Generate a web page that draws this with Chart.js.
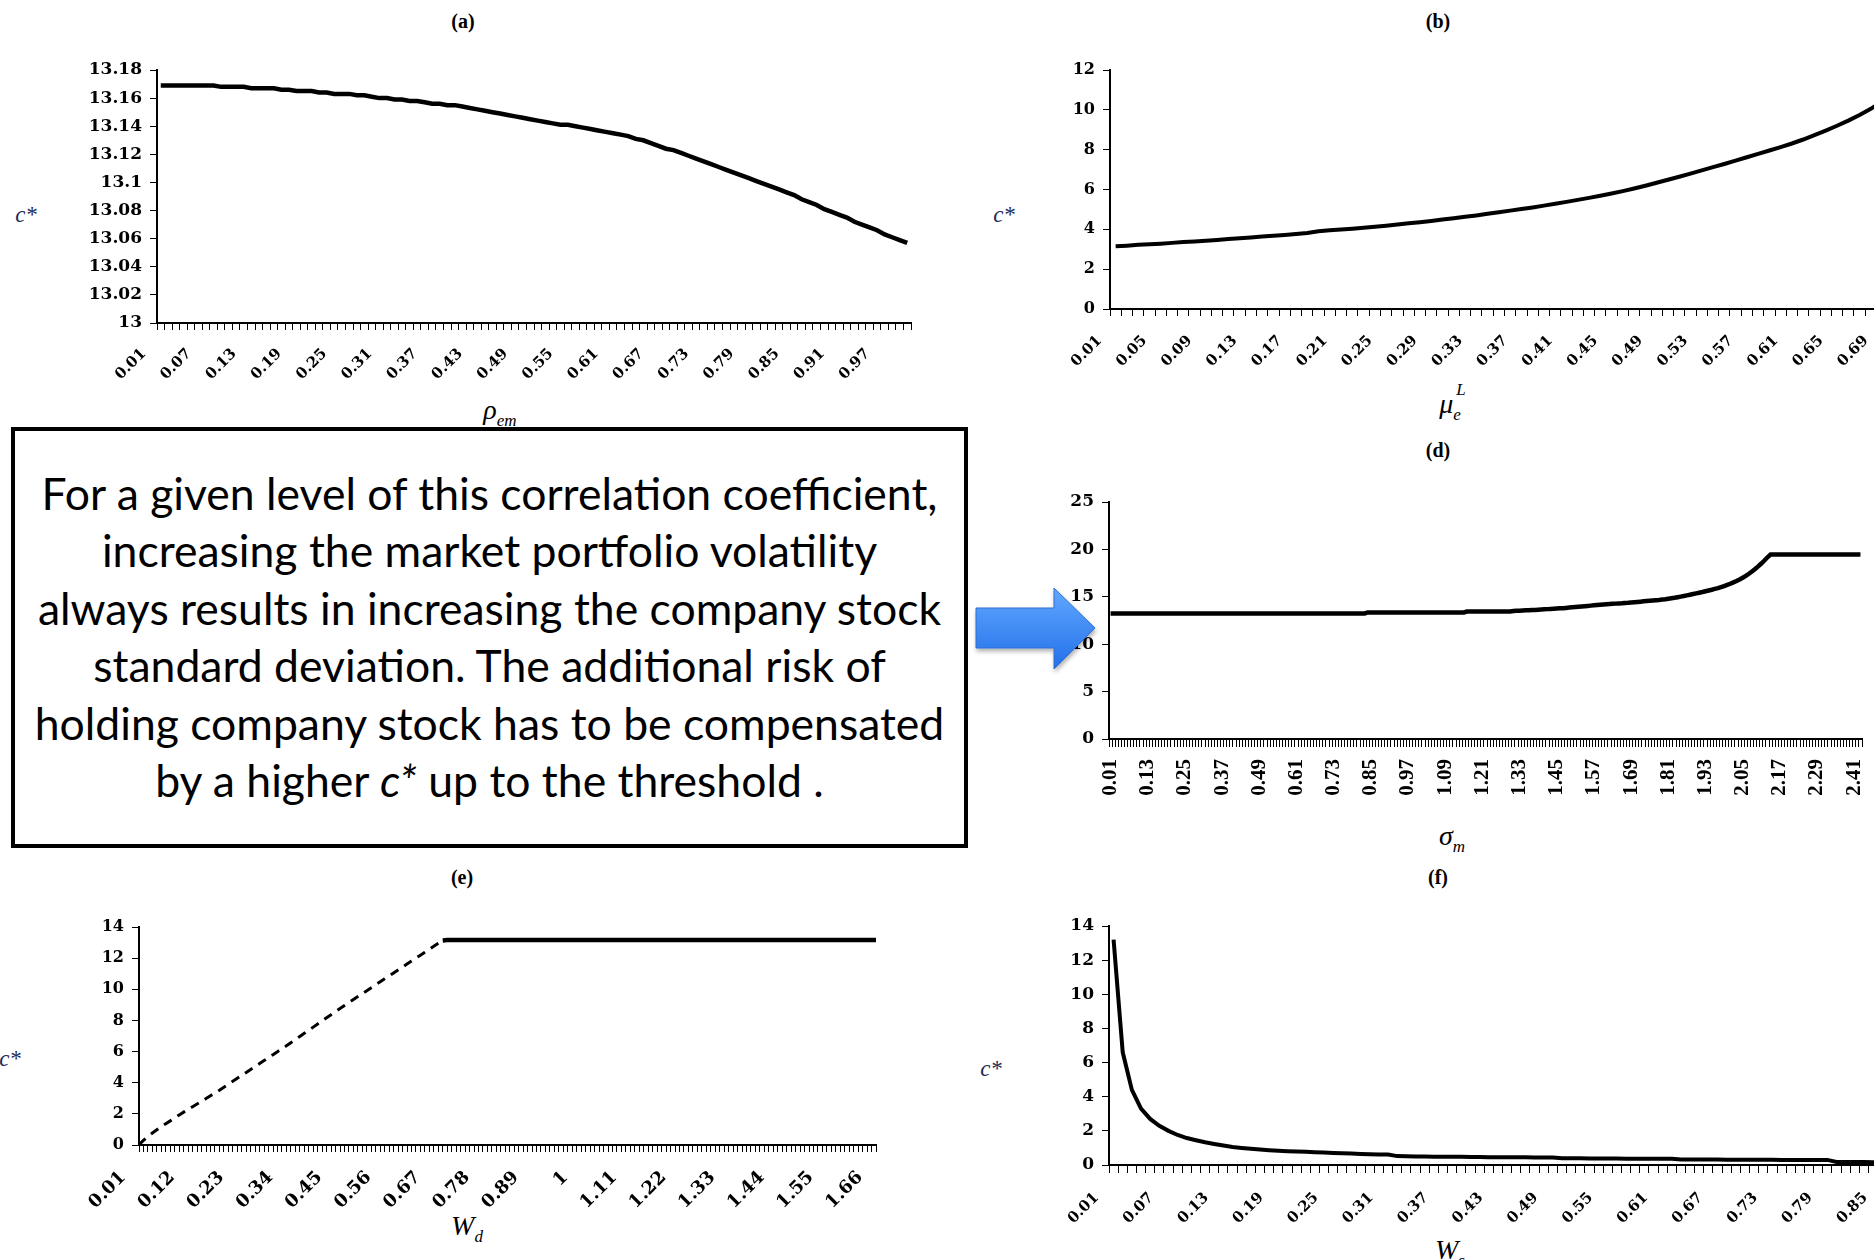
<!DOCTYPE html>
<html>
<head>
<meta charset="utf-8">
<script src="https://cdn.jsdelivr.net/npm/chart.js@4.4.1/dist/chart.umd.min.js"></script>
<style>
  html, body { margin: 0; padding: 0; background: #fff; }
  body { position: relative; width: 1874px; height: 1260px; overflow: hidden; }
  canvas { position: absolute; }
  .lbl { position: absolute; font-family: 'Liberation Serif', serif; color: #000; white-space: nowrap; line-height: 1; transform: translate(-50%, -50%); }
  .panel { font-weight: bold; font-size: 20px; }
  .cstar { font-style: italic; font-size: 23px; color: #1f2a55; }
  .axt { font-style: italic; font-size: 28px; }
  .axt .s { font-size: 17px; position: relative; top: 7px; }
  .axt .p { font-size: 17px; position: absolute; }
  #note { position: absolute; left: 11px; top: 427px; width: 957px; height: 421px; box-sizing: border-box;
          border: 4px solid #000; background: #fff; z-index: 4; }
  #noteText { position: absolute; left: 11px; top: 464px; width: 957px; text-align: center; z-index: 5;
              font-family: Lato, 'Open Sans', sans-serif; font-size: 44.5px; line-height: 57.4px; color: #000; white-space: nowrap; }
  #arrow { position: absolute; left: 966px; top: 580px; z-index: 6; }
</style>
</head>
<body>

<div class="lbl panel" style="left:463px;top:21px">(a)</div>
<div class="lbl panel" style="left:1438px;top:21px">(b)</div>
<div class="lbl panel" style="left:1438px;top:450px">(d)</div>
<div class="lbl panel" style="left:462px;top:877px">(e)</div>
<div class="lbl panel" style="left:1438px;top:877px">(f)</div>

<div class="lbl cstar" style="left:26px;top:214px">c*</div>
<div class="lbl cstar" style="left:1004px;top:214px">c*</div>
<div class="lbl cstar" style="left:1000px;top:640px">c*</div>
<div class="lbl cstar" style="left:10px;top:1058px">c*</div>
<div class="lbl cstar" style="left:991px;top:1068px">c*</div>

<div class="lbl axt" style="left:500px;top:410px">ρ<span class="s">em</span></div>
<div class="lbl axt" style="left:1450px;top:404px">μ<span class="s">e</span><span class="p" style="left:17px;top:-9px">L</span></div>
<div class="lbl axt" style="left:1452px;top:836px">σ<span class="s">m</span></div>
<div class="lbl axt" style="left:467px;top:1226px">W<span class="s">d</span></div>
<div class="lbl axt" style="left:1450px;top:1250px">W<span class="s">s</span></div>

<div id="note"></div>
<div id="noteText">For a given level of this correlation coefficient,<br>increasing the market portfolio volatility<br>always results in increasing the company stock<br>standard deviation. The additional risk of<br>holding company stock has to be compensated<br>by a higher <i>c*</i> up to the threshold .</div>

<svg id="arrow" width="140" height="100">
  <defs>
    <linearGradient id="blue" x1="0" y1="0" x2="0" y2="1">
      <stop offset="0" stop-color="#62a8ff"/>
      <stop offset="1" stop-color="#2270ea"/>
    </linearGradient>
    <filter id="sh" x="-20%" y="-20%" width="140%" height="150%">
      <feDropShadow dx="1" dy="3" stdDeviation="2" flood-color="#000" flood-opacity="0.3"/>
    </filter>
  </defs>
  <polygon points="10,28 88,28 88,8 129,48 88,89 88,68 10,68" fill="url(#blue)" stroke="#2f6fd0" stroke-width="1" filter="url(#sh)"/>
</svg>

<script>
// ═══════════════════════════════════════════════════════════════════════════
// c* sensitivity panels (a) (b) (d) (e) (f)
// ═══════════════════════════════════════════════════════════════════════════

// ── Categories: 0.01 steps ───────────────────────────────────────────────────
const steps = n => Array.from({ length: n }, (_, i) => String(+((i + 1) / 100).toFixed(2)))

const catsA = steps(100)   // ρ_em 0.01 .. 1.00
const catsB = steps(70)    // μ_e^L 0.01 .. 0.70
const catsD = steps(243)   // σ_m 0.01 .. 2.43
const catsE = steps(166)   // W_d 0.01 .. 1.66
const catsF = steps(86)    // W_s 0.01 .. 0.86

// ── Tick labels shown ───────────────────────────────────────────────────────
const ticksA = ['0.01','0.07','0.13','0.19','0.25','0.31','0.37','0.43','0.49','0.55','0.61','0.67','0.73','0.79','0.85','0.91','0.97']
const ticksB = ['0.01','0.05','0.09','0.13','0.17','0.21','0.25','0.29','0.33','0.37','0.41','0.45','0.49','0.53','0.57','0.61','0.65','0.69']
const ticksD = ['0.01','0.13','0.25','0.37','0.49','0.61','0.73','0.85','0.97','1.09','1.21','1.33','1.45','1.57','1.69','1.81','1.93','2.05','2.17','2.29','2.41']
const ticksE = ['0.01','0.12','0.23','0.34','0.45','0.56','0.67','0.78','0.89','1','1.11','1.22','1.33','1.44','1.55','1.66']
const ticksF = ['0.01','0.07','0.13','0.19','0.25','0.31','0.37','0.43','0.49','0.55','0.61','0.67','0.73','0.79','0.85']

// ── Series ──────────────────────────────────────────────────────────────────
const valuesA = [
  13.169, 13.169, 13.169, 13.169, 13.169, 13.169, 13.169, 13.169, 13.168, 13.168,
  13.168, 13.168, 13.167, 13.167, 13.167, 13.167, 13.166, 13.166, 13.165, 13.165,
  13.165, 13.164, 13.164, 13.163, 13.163, 13.163, 13.162, 13.162, 13.161, 13.160,
  13.160, 13.159, 13.159, 13.158, 13.158, 13.157, 13.156, 13.156, 13.155, 13.155,
  13.154, 13.153, 13.152, 13.151, 13.150, 13.149, 13.148, 13.147, 13.146, 13.145,
  13.144, 13.143, 13.142, 13.141, 13.141, 13.140, 13.139, 13.138, 13.137, 13.136,
  13.135, 13.134, 13.133, 13.131, 13.130, 13.128, 13.126, 13.124, 13.123, 13.121,
  13.119, 13.117, 13.115, 13.113, 13.111, 13.109, 13.107, 13.105, 13.103, 13.101,
  13.099, 13.097, 13.095, 13.093, 13.091, 13.088, 13.086, 13.084, 13.081, 13.079,
  13.077, 13.075, 13.072, 13.070, 13.068, 13.066, 13.063, 13.061, 13.059, 13.057,
]

const valuesB = [
  3.15, 3.18, 3.22, 3.25, 3.28, 3.32, 3.36, 3.39, 3.43, 3.47,
  3.51, 3.55, 3.59, 3.64, 3.68, 3.72, 3.77, 3.82, 3.90, 3.95,
  3.99, 4.03, 4.08, 4.13, 4.18, 4.24, 4.30, 4.36, 4.42, 4.49,
  4.56, 4.63, 4.70, 4.78, 4.86, 4.94, 5.02, 5.10, 5.19, 5.28,
  5.38, 5.48, 5.58, 5.69, 5.80, 5.92, 6.05, 6.19, 6.34, 6.49,
  6.64, 6.80, 6.96, 7.12, 7.28, 7.45, 7.62, 7.79, 7.96, 8.13,
  8.31, 8.51, 8.73, 8.96, 9.20, 9.46, 9.74, 10.05, 10.42, 10.78,
]

const valuesD = [
  13.25, 13.25, 13.25, 13.25, 13.25, 13.25, 13.25, 13.25, 13.25, 13.25,
  13.25, 13.25, 13.25, 13.25, 13.25, 13.25, 13.25, 13.25, 13.25, 13.25,
  13.25, 13.25, 13.25, 13.25, 13.25, 13.25, 13.25, 13.25, 13.25, 13.25,
  13.25, 13.25, 13.25, 13.25, 13.25, 13.25, 13.25, 13.25, 13.25, 13.25,
  13.25, 13.25, 13.25, 13.25, 13.25, 13.25, 13.25, 13.25, 13.25, 13.25,
  13.25, 13.25, 13.25, 13.25, 13.25, 13.25, 13.25, 13.25, 13.25, 13.25,
  13.25, 13.25, 13.25, 13.25, 13.25, 13.25, 13.25, 13.25, 13.25, 13.25,
  13.25, 13.25, 13.25, 13.25, 13.25, 13.25, 13.25, 13.25, 13.25, 13.25,
  13.25, 13.25, 13.25,
  13.35, 13.35, 13.35, 13.35, 13.35, 13.35, 13.35, 13.35, 13.35, 13.35,
  13.35, 13.35, 13.35, 13.35, 13.35, 13.35, 13.35, 13.35, 13.35, 13.35,
  13.35, 13.35, 13.35, 13.35, 13.35, 13.35, 13.35, 13.35, 13.35, 13.35,
  13.35, 13.35,
  13.45, 13.45, 13.45, 13.45, 13.45, 13.45, 13.45, 13.45, 13.45, 13.45,
  13.45, 13.45, 13.45, 13.45, 13.45,
  13.50, 13.52, 13.53, 13.55, 13.57, 13.58, 13.60, 13.62, 13.64, 13.66,
  13.68, 13.70, 13.72, 13.74, 13.76, 13.78, 13.80, 13.83, 13.86, 13.89,
  13.92, 13.95, 13.98, 14.01, 14.04, 14.07, 14.10, 14.13, 14.16, 14.19,
  14.22, 14.24, 14.26, 14.28, 14.30, 14.32, 14.35, 14.37, 14.40, 14.43,
  14.46, 14.49, 14.52, 14.55, 14.58, 14.61, 14.64, 14.67, 14.71, 14.75,
  14.80, 14.85, 14.90, 14.96, 15.02, 15.08, 15.15, 15.22, 15.29, 15.36,
  15.43, 15.50, 15.58, 15.66, 15.74, 15.83, 15.92, 16.02, 16.13, 16.25,
  16.38, 16.52, 16.67, 16.83, 17.01, 17.21, 17.43, 17.67, 17.93, 18.21,
  18.51, 18.83, 19.17, 19.45,
  19.45, 19.45, 19.45, 19.45, 19.45, 19.45, 19.45, 19.45, 19.45, 19.45,
  19.45, 19.45, 19.45, 19.45, 19.45, 19.45, 19.45, 19.45, 19.45, 19.45,
  19.45, 19.45, 19.45, 19.45, 19.45, 19.45, 19.45, 19.45, 19.45,
]

// dashed up to the kink, solid after it
const solidFromE = 68
const valuesE = [
  0.02, 0.30, 0.55, 0.77, 0.98, 1.18, 1.37, 1.55, 1.74, 1.93,
  2.11, 2.29, 2.46, 2.63, 2.80, 2.98, 3.16, 3.34, 3.52, 3.71,
  3.90, 4.09, 4.28, 4.47, 4.66, 4.85, 5.04, 5.23, 5.42, 5.61,
  5.80, 5.99, 6.18, 6.37, 6.57, 6.77, 6.97, 7.17, 7.37, 7.57,
  7.77, 7.97, 8.17, 8.37, 8.57, 8.77, 8.96, 9.15, 9.34, 9.53,
  9.72, 9.91, 10.10, 10.29, 10.48, 10.67, 10.86, 11.05, 11.24, 11.43,
  11.62, 11.81, 12.00, 12.19, 12.38, 12.57, 12.76, 12.95, 13.14,
  13.17, 13.17, 13.17, 13.17, 13.17, 13.17, 13.17, 13.17, 13.17, 13.17,
  13.17, 13.17, 13.17, 13.17, 13.17, 13.17, 13.17, 13.17, 13.17, 13.17,
  13.17, 13.17, 13.17, 13.17, 13.17, 13.17, 13.17, 13.17, 13.17, 13.17,
  13.17, 13.17, 13.17, 13.17, 13.17, 13.17, 13.17, 13.17, 13.17, 13.17,
  13.17, 13.17, 13.17, 13.17, 13.17, 13.17, 13.17, 13.17, 13.17, 13.17,
  13.17, 13.17, 13.17, 13.17, 13.17, 13.17, 13.17, 13.17, 13.17, 13.17,
  13.17, 13.17, 13.17, 13.17, 13.17, 13.17, 13.17, 13.17, 13.17, 13.17,
  13.17, 13.17, 13.17, 13.17, 13.17, 13.17, 13.17, 13.17, 13.17, 13.17,
  13.17, 13.17, 13.17, 13.17, 13.17, 13.17, 13.17, 13.17, 13.17, 13.17,
  13.17, 13.17, 13.17, 13.17, 13.17, 13.17, 13.17,
]

const valuesF = [
  13.2, 6.6, 4.4, 3.3, 2.7, 2.3, 2.0, 1.76, 1.58, 1.45,
  1.33, 1.23, 1.14, 1.06, 1.00, 0.95, 0.91, 0.87, 0.84, 0.81,
  0.79, 0.77, 0.75, 0.73, 0.71, 0.69, 0.67, 0.65, 0.63, 0.62,
  0.61, 0.52, 0.51, 0.50, 0.50, 0.49, 0.49, 0.48, 0.48, 0.47,
  0.47, 0.46, 0.46, 0.45, 0.45, 0.45, 0.44, 0.44, 0.44, 0.39,
  0.39, 0.39, 0.38, 0.38, 0.38, 0.38, 0.37, 0.37, 0.37, 0.37,
  0.37, 0.36, 0.32, 0.32, 0.32, 0.32, 0.32, 0.31, 0.31, 0.31,
  0.31, 0.31, 0.31, 0.30, 0.30, 0.30, 0.30, 0.30, 0.30, 0.18,
  0.18, 0.17, 0.17, 0.16, 0.16, 0.15,
]

// ── Shared defaults ─────────────────────────────────────────────────────────
Chart.defaults.font.family = "'Liberation Serif', serif"
Chart.defaults.color = '#000'

const fontB = (size, family) => ({ family: family || "'DejaVu Serif', serif", weight: 'bold', size })
const fmtY = v => String(+v.toFixed(2))

// ── Build one panel: box = plot area in page pixels ─────────────────────────
function makePanel(p) {
  const yW = 80, padT = 14, padR = 12
  const w = p.box.x1 - p.box.x0 + yW + padR
  const h = p.box.y1 - p.box.y0 + padT + p.xH
  const cv = document.createElement('canvas')
  cv.width = w
  cv.height = h
  cv.style.left = (p.box.x0 - yW) + 'px'
  cv.style.top = (p.box.y0 - padT) + 'px'
  cv.style.width = w + 'px'
  cv.style.height = h + 'px'
  document.body.appendChild(cv)

  return new Chart(cv.getContext('2d'), {
    type: 'line',
    data: {
      labels: p.cats,
      datasets: [{
        data: p.data,
        borderColor: '#000',
        borderWidth: p.lw,
        pointRadius: 0,
        tension: 0,
        fill: false,
        segment: p.segment || {},
      }],
    },
    options: {
      responsive: false,
      animation: false,
      devicePixelRatio: 1,
      layout: { autoPadding: false, padding: { top: padT, right: padR, left: 0, bottom: 0 } },
      plugins: { legend: { display: false }, tooltip: { enabled: false } },
      scales: {
        x: {
          type: 'category',
          offset: p.offset,
          border: { display: true, color: '#000', width: 2 },
          grid: { drawOnChartArea: false, drawTicks: true, tickLength: p.tickLen, color: '#000', lineWidth: 1, offset: p.offset },
          ticks: {
            autoSkip: false,
            minRotation: p.rot,
            maxRotation: p.rot,
            padding: p.xPad,
            labelOffset: p.xShift || 0,
            color: '#000',
            font: fontB(p.xFont, p.xFamily),
            callback(v) {
              const l = this.getLabelForValue(v)
              return p.ticks.includes(l) ? l : ''
            },
          },
          // fixed height, and no label overhang pushing the plot area
          afterFit(s) {
            s.height = p.xH
            s.paddingLeft = 0; s.paddingRight = 0; s.paddingTop = 0; s.paddingBottom = 0
          },
        },
        y: {
          min: p.yMin,
          max: p.yMax,
          border: { display: true, color: '#000', width: 2 },
          grid: { drawOnChartArea: false, drawTicks: true, tickLength: 7, color: '#000', lineWidth: 1 },
          ticks: { stepSize: p.yStep, padding: 8, color: '#000', font: fontB(p.yFont), callback: fmtY },
          afterFit(s) {
            s.width = yW
            s.paddingTop = 0; s.paddingBottom = 0
          },
        },
      },
    },
  })
}

// ── Panels ──────────────────────────────────────────────────────────────────
makePanel({
  box: { x0: 157, y0: 70, x1: 911, y1: 323 }, cats: catsA, data: valuesA, ticks: ticksA,
  yMin: 13, yMax: 13.18, yStep: 0.02, offset: true, rot: 45, xH: 80, xPad: 15, xShift: -17, tickLen: 7,
  xFont: 15, yFont: 17, lw: 4.5,
})

makePanel({
  box: { x0: 1110, y0: 70, x1: 1899, y1: 309 }, cats: catsB, data: valuesB, ticks: ticksB,
  yMin: 0, yMax: 12, yStep: 2, offset: true, rot: 45, xH: 80, xPad: 16, xShift: -16, tickLen: 7,
  xFont: 15, yFont: 16, lw: 4,
})

makePanel({
  box: { x0: 1109, y0: 502, x1: 1862, y1: 739 }, cats: catsD, data: valuesD, ticks: ticksD,
  yMin: 0, yMax: 25, yStep: 5, offset: true, rot: 90, xH: 80, xPad: 12, tickLen: 8,
  xFont: 21, xFamily: "'Liberation Serif', serif", yFont: 17, lw: 4.5,
})

makePanel({
  box: { x0: 139, y0: 927, x1: 876, y1: 1145 }, cats: catsE, data: valuesE, ticks: ticksE,
  yMin: 0, yMax: 14, yStep: 2, offset: false, rot: 45, xH: 80, xPad: 15, xShift: -16, tickLen: 7,
  xFont: 18, yFont: 16, lw: 4.5,
  segment: {
    borderDash: ctx => ctx.p0DataIndex < solidFromE ? [9, 7] : undefined,
    borderWidth: ctx => ctx.p0DataIndex < solidFromE ? 3 : 4.5,
  },
})

makePanel({
  box: { x0: 1109, y0: 926, x1: 1896, y1: 1165 }, cats: catsF, data: valuesF, ticks: ticksF,
  yMin: 0, yMax: 14, yStep: 2, offset: true, rot: 45, xH: 80, xPad: 16, xShift: -17, tickLen: 8,
  xFont: 15, yFont: 17, lw: 4,
})
</script>
</body>
</html>
